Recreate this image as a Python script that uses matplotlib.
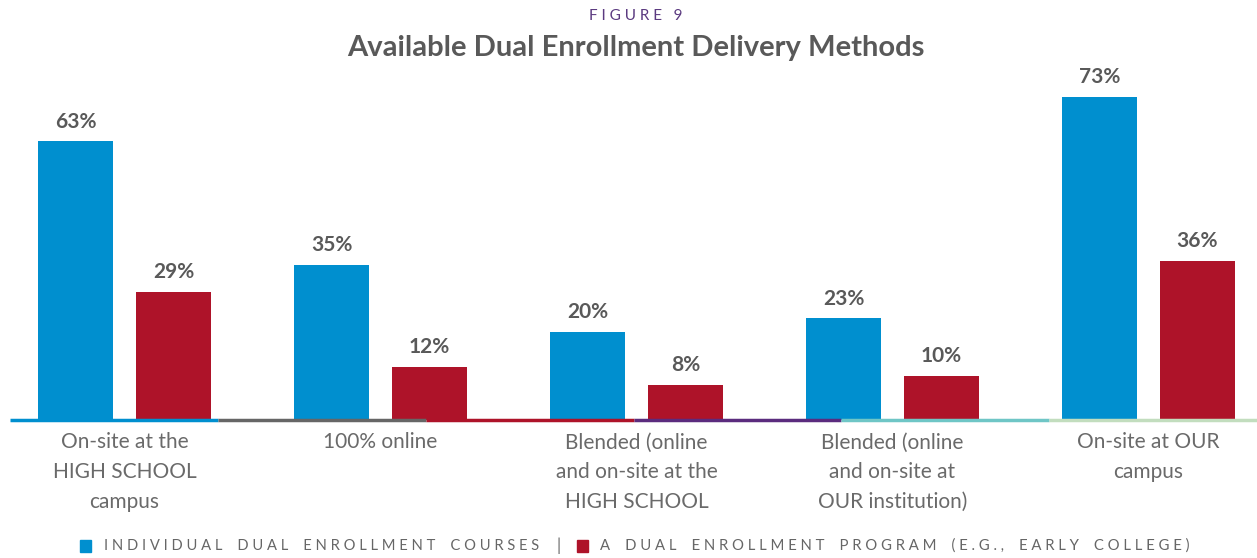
import matplotlib.pyplot as plt
import numpy as np

# data
categories = ['On-site at the\nHIGH SCHOOL\ncampus',
              '100% online',
              'Blended (online\nand on-site at the\nHIGH SCHOOL',
              'Blended (online\nand on-site at\nOUR institution)',
              'On-site at OUR\ncampus']
individual = [63, 35, 20, 23, 73]
program = [29, 12, 8, 10, 36]

blue = '#008FCF'
red = '#AE1329'
gray_txt = '#595959'
base_colors = ['#008FCF', '#666666', '#AE1329', '#5B2C7E', '#6FC6C6', '#C2DDBE']

plt.rcParams['font.family'] = ['Lato', 'DejaVu Sans']

fig = plt.figure(figsize=(12.57, 5.58), dpi=100)
ax = fig.add_axes([5 / 1257, 138 / 558, 1252 / 1257, 360 / 558])

x = np.arange(len(categories))
w = 0.293
off = 0.191
b1 = ax.bar(x - off, individual, w, color=blue)
b2 = ax.bar(x + off, program, w, color=red)

for bars, vals in [(b1, individual), (b2, program)]:
    for b, v in zip(bars, vals):
        ax.annotate(f'{v}%', (b.get_x() + b.get_width() / 2, v),
                    xytext=(0, 7), textcoords='offset points',
                    ha='center', va='bottom', fontsize=15,
                    fontweight='bold', color=gray_txt)

ax.set_xlim(-0.4668, 4.4238)
ax.set_ylim(0, 81.36)
for s in ax.spines.values():
    s.set_visible(False)
ax.set_yticks([])
ax.set_xticks(x)
ax.set_xticklabels(categories, fontsize=15, color='#6a6a6a',
                   linespacing=1.6)
ax.tick_params(axis='x', length=0, pad=9)

# multicoloured baseline
for i, c in enumerate(base_colors):
    x0 = 5 / 1252 + i * (1 - 5 / 1252) / 6
    x1 = 5 / 1252 + (i + 1) * (1 - 5 / 1252) / 6
    ax.plot([x0, x1], [0, 0], color=c, lw=2.5, transform=ax.transAxes,
            clip_on=False, solid_capstyle='butt', zorder=3)

fig.text(0.506, 1 - 16 / 558, 'F I G U R E   9', ha='center', va='center',
         fontsize=11, color='#5B3A80')
fig.text(0.506, 1 - 48 / 558, 'Available Dual Enrollment Delivery Methods',
         ha='center', va='center', fontsize=21, fontweight='bold',
         color=gray_txt)

# legend
def spaced(s):
    return ' '.join(s).replace('   ', '    ')

ly = 1 - 546 / 558
fig.patches.append(plt.Rectangle((80 / 1257, ly - 6 / 558), 11 / 1257, 12 / 558,
                                 transform=fig.transFigure, color=blue))
fig.text(104 / 1257, ly, spaced('INDIVIDUAL DUAL ENROLLMENT COURSES'),
         ha='left', va='center', fontsize=10.6, color='#666666')
fig.text(559 / 1257, ly, '|', ha='center', va='center', fontsize=12,
         color='#666666')
fig.patches.append(plt.Rectangle((577 / 1257, ly - 6 / 558), 11 / 1257, 12 / 558,
                                 transform=fig.transFigure, color=red))
fig.text(600 / 1257, ly, spaced('A DUAL ENROLLMENT PROGRAM (E.G., EARLY COLLEGE)'),
         ha='left', va='center', fontsize=10.7, color='#666666')

fig.savefig('out.png', dpi=100)
